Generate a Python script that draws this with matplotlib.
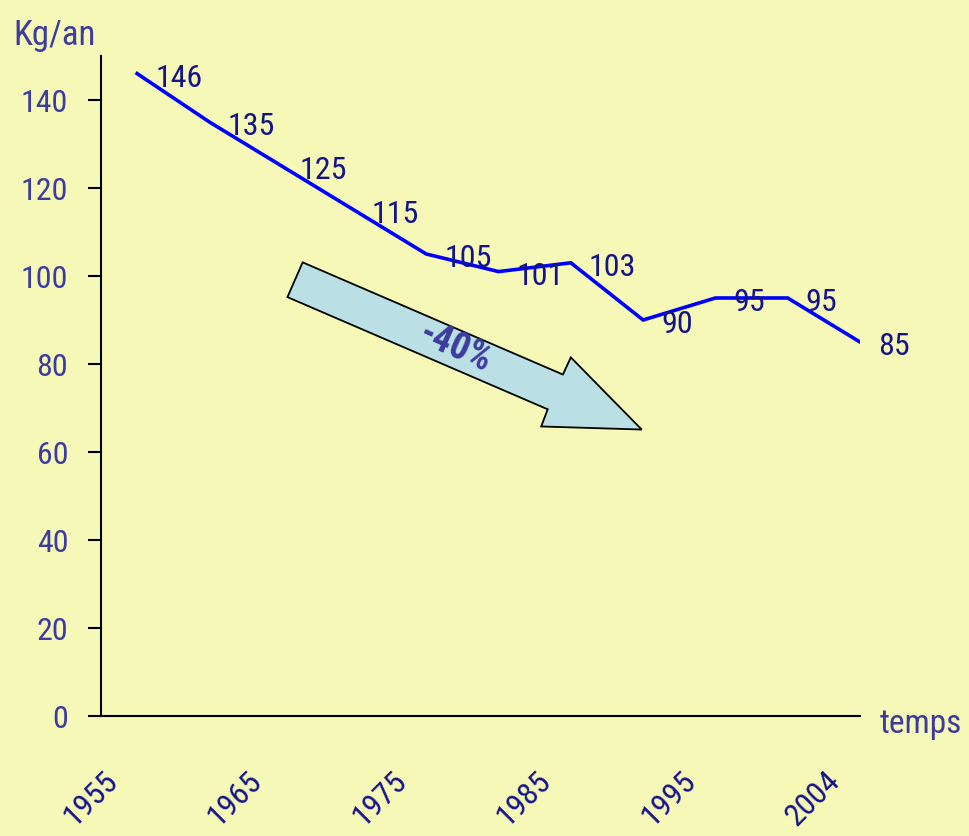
import matplotlib
matplotlib.use('Agg')
import matplotlib.pyplot as plt
from matplotlib import font_manager
from matplotlib.patches import Polygon
from matplotlib.transforms import ScaledTranslation

# consommation (kg/an)
years = ['1955', '', '1965', '', '1975', '', '1985', '', '1995', '', '2004']
values = [146, 135, 125, 115, 105, 101, 103, 90, 95, 95, 85]
y_ticks = [0, 20, 40, 60, 80, 100, 120, 140]

bg = '#f6f8b8'
label_col = '#3c3ca0'
value_col = '#14148a'

# pick a narrow font if there is one
names = set(f.name for f in font_manager.fontManager.ttflist)
font = 'DejaVu Sans'
for cand in ['Liberation Sans Narrow', 'Roboto Condensed', 'Open Sans Condensed']:
    if cand in names:
        font = cand
        break
plt.rcParams['font.family'] = [font, 'DejaVu Sans']

fig = plt.figure(figsize=(9.69, 8.37), dpi=100, facecolor=bg)
ax = fig.add_axes([0.1042, 0.1434, 0.7833, 0.7885])
ax.set_facecolor(bg)

x = list(range(len(values)))
ax.plot(x, values, color='#0000ff', lw=2.6, solid_joinstyle='miter', zorder=3)

for xi, v in zip(x, values):
    ax.annotate(str(v), (xi, v), xytext=(18, -4), textcoords='offset pixels',
                ha='left', va='center', fontsize=23, color=value_col, zorder=4)

# arrow -40%
arrow_pts = [(2.29, 103.1), (2.08, 95.2), (5.68, 69.7), (5.59, 65.8),
             (6.98, 65.1), (6.0, 81.5), (5.89, 77.6)]
ax.add_patch(Polygon(arrow_pts, closed=True, facecolor='#bae0e6',
                     edgecolor='black', lw=1.3, zorder=2))
ax.text(4.4, 84.0, '-40%', rotation=-24, ha='center', va='center',
        fontsize=27, fontweight='bold', color=label_col, zorder=3)

ax.set_xlim(-0.5, 10)
ax.set_ylim(0, 150)
ax.spines['top'].set_visible(False)
ax.spines['right'].set_visible(False)
for s in ['left', 'bottom']:
    ax.spines[s].set_linewidth(1.5)

ax.set_yticks(y_ticks)
ax.tick_params(axis='y', length=9.5, width=1.5, pad=14, labelsize=23,
               labelcolor=label_col)
ax.set_xticks(x)
ax.set_xticklabels(years, rotation=45, ha='right', va='top')
ax.tick_params(axis='x', length=0, pad=35, labelsize=23, labelcolor=value_col)
shift = ScaledTranslation(-14 / 100, 0, fig.dpi_scale_trans)
for lab in ax.get_xticklabels():
    lab.set_transform(lab.get_transform() + shift)

fig.text(13 / 969, 1 - 45 / 837, 'Kg/an', fontsize=25, color=label_col,
         ha='left', va='baseline')
fig.text(880 / 969, 1 - 733 / 837, 'temps', fontsize=24, color=label_col,
         ha='left', va='baseline')

fig.savefig('out.png', dpi=100, facecolor=bg)
